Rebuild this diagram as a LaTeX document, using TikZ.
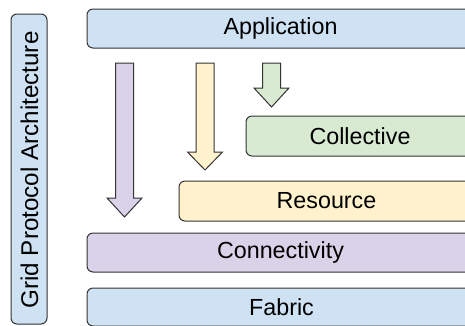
\documentclass[tikz,border=0pt]{standalone}
\usepackage{fontspec}
\setmainfont{Liberation Sans}
\definecolor{cblue}{HTML}{CFE2F3}
\definecolor{cgreen}{HTML}{D9EAD3}
\definecolor{cyellow}{HTML}{FFF2CC}
\definecolor{cpurple}{HTML}{D9D2E9}
\definecolor{edge}{HTML}{333333}
\tikzset{
  layer/.style={draw=edge, line width=1pt, rounded corners=6pt},
  label/.style={font=\fontsize{23.3}{26}\selectfont, inner sep=0pt},
  blockarrow/.style={draw=edge, line width=1pt, line join=miter}
}
\begin{document}
\begin{tikzpicture}[x=1pt,y=-1pt]
\useasboundingbox (0,0) rectangle (465,325);
\begin{scope}
\clip (0,0) rectangle (465,325);
% side label
\draw[layer, fill=cblue] (11,14) rectangle (47,324);
\node[label, font=\fontsize{24.2}{26}\selectfont, rotate=90] (side) at (29.5,170) {Grid Protocol Architecture};
% layers
\draw[layer, fill=cblue] (87,9) rectangle (474,48);
\node[label] (app) at (280.5,28.5) {Application};
\draw[layer, fill=cgreen] (246,116) rectangle (474,156);
\node[label] (coll) at (360,136) {Collective};
\draw[layer, fill=cyellow] (179,181) rectangle (474,221);
\node[label] (res) at (326.5,201) {Resource};
\draw[layer, fill=cpurple] (87,233) rectangle (474,272);
\node[label] (conn) at (280.5,252.5) {Connectivity};
\draw[layer, fill=cblue] (87,288) rectangle (474,326);
\node[label] (fab) at (281.5,307) {Fabric};
% block arrows
\draw[blockarrow, fill=cpurple] (115.5,63) -- (133.5,63) -- (133.5,198) -- (142,198) -- (124.5,217) -- (107,198) -- (115.5,198) -- cycle;
\draw[blockarrow, fill=cyellow] (196,63) -- (214,63) -- (214,152) -- (222.5,152) -- (205,170) -- (187.5,152) -- (196,152) -- cycle;
\draw[blockarrow, fill=cgreen] (262.5,63) -- (280.5,63) -- (280.5,88) -- (289,88) -- (271.5,107) -- (254,88) -- (262.5,88) -- cycle;
\end{scope}
\end{tikzpicture}
\end{document}
